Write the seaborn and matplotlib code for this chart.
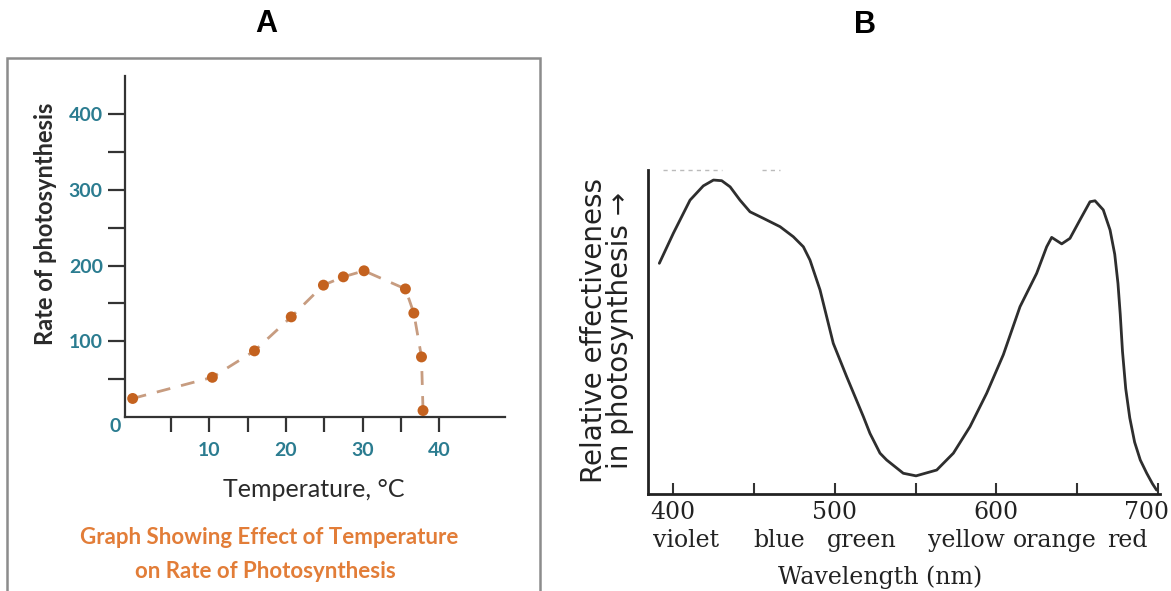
import matplotlib
matplotlib.use("Agg")
import matplotlib.pyplot as plt
import matplotlib.transforms as mtransforms
from matplotlib.patches import Rectangle
import seaborn as sns

# ---------------- Panel A data ----------------
temperature = [0, 10.4, 15.9, 20.7, 24.9, 27.5, 30.2, 35.6, 36.7, 37.7, 37.9]
rate = [24, 52, 87, 132, 174, 185, 193, 169, 137, 79, 8]
a_xticks = [5, 10, 15, 20, 25, 30, 35, 40]
a_xticklabels = ["", "10", "", "20", "", "30", "", "40"]
a_yticks = [50, 100, 150, 200, 250, 300, 350, 400]
a_yticklabels = ["", "100", "", "200", "", "300", "", "400"]

# ---------------- Panel B data ----------------
wavelength = [391.5, 400.2, 410.5, 418.7, 425, 430.1, 435.3, 441.4, 447.6, 455.8,
              466.2, 474.4, 480.6, 484.7, 490.9, 499.1, 507.4, 517.7, 521.8, 528,
              532.1, 542.4, 550.3, 563.1, 573.4, 583.7, 594, 604.3, 614.6, 624.9,
              631.1, 634.2, 640.4, 645.5, 651.7, 657.9, 661, 666.1, 670.3, 673.2,
              675.2, 676.6, 678.0, 680.0, 682.5, 685.5, 689.0, 693, 696.5, 699.1]
effectiveness = [71.2, 80.5, 90.7, 95.1, 96.9, 96.7, 94.8, 90.7, 87.1, 85.1,
                 82.5, 79.4, 76.3, 72.2, 63, 46.5, 36.2, 23.9, 18.7, 12.6,
                 10.5, 6.4, 5.6, 7.4, 12.6, 20.8, 31.1, 43, 57.8, 68.1,
                 76.3, 79.2, 77.2, 78.9, 84.6, 90.2, 90.5, 87.7, 81.5, 74.0,
                 65.0, 55.5, 44.0, 32.5, 23.5, 16.0, 10.5, 6.4, 3.2, 1.2]
b_xticks = [400, 450, 500, 550, 600, 650, 700]
b_xticklabels = ["400", "", "500", "", "600", "", "700"]
color_names = ["violet", "blue", "green", "yellow", "orange", "red"]
color_name_pos = [408, 465.6, 516.9, 581.2, 636.2, 681.1]
top_marks_1 = [393.8, 430.3]
top_marks_2 = [455, 466]

sns.set_theme(style="white")
plt.rcParams["font.family"] = ["Lato", "DejaVu Sans"]

W, H = 1171, 591
fig = plt.figure(figsize=(W / 100, H / 100), dpi=100)
fig.patch.set_facecolor("white")

def fx(px):
    return px / W

def fy(py):
    return 1 - py / H

TEAL = "#2b7c90"
DOT = "#c4621f"
DASH = "#c79c80"
ORANGE = "#e27d38"
DARK = "#2a2a2a"

# ---------------- Panel A ----------------
axA = fig.add_axes([fx(125), fy(416.6), (505 - 125) / W, (416.6 - 75.9) / H])
axA.set_facecolor("white")
sns.lineplot(x=temperature, y=rate, ax=axA, color=DASH, lw=2, sort=False)
axA.get_lines()[-1].set_dashes([5, 4])
sns.scatterplot(x=temperature, y=rate, ax=axA, color=DOT, s=62,
                edgecolor="none", zorder=3)
axA.set_xlim(-1, 48.6)
axA.set_ylim(0, 451)
for s in ["top", "right"]:
    axA.spines[s].set_visible(False)
for s in ["left", "bottom"]:
    axA.spines[s].set_color("#333333")
    axA.spines[s].set_linewidth(1.6)
axA.set_xticks(a_xticks)
axA.set_xticklabels(a_xticklabels)
axA.set_yticks(a_yticks)
axA.set_yticklabels(a_yticklabels)
axA.tick_params(axis="x", bottom=True, direction="out", length=11, width=1.6,
                color="#333333", pad=7, labelsize=14, labelcolor=TEAL)
axA.tick_params(axis="y", left=True, direction="out", length=12, width=1.6,
                color="#333333", pad=4, labelsize=14, labelcolor=TEAL)
for lab in axA.get_xticklabels() + axA.get_yticklabels():
    lab.set_fontweight("bold")
axA.text(-0.026, -0.028, "0", transform=axA.transAxes, ha="center", va="center",
         fontsize=14, fontweight="bold", color=TEAL)
axA.set_ylabel("Rate of photosynthesis", fontsize=17, fontweight="bold",
               color=DARK, va="center")
axA.yaxis.set_label_coords(-0.21, 0.565)
axA.set_xlabel("Temperature, °C", fontsize=18, color=DARK, va="center")
axA.xaxis.set_label_coords(0.497, -0.214)

fig.text(fx(269), fy(538), "Graph Showing Effect of Temperature", ha="center",
         va="center", fontsize=16, fontweight="bold", color=ORANGE)
fig.text(fx(265), fy(571), "on Rate of Photosynthesis", ha="center",
         va="center", fontsize=16, fontweight="bold", color=ORANGE)

fig.patches.append(Rectangle((fx(7), -0.05), (540 - 7) / W, fy(58) + 0.05,
                             transform=fig.transFigure, fill=False,
                             edgecolor="#8c8c8c", lw=1.8, zorder=0))

fig.text(fx(266), fy(24), "A", ha="center", va="center", fontsize=22,
         fontweight="bold", family=["Liberation Sans Narrow", "Liberation Sans"],
         color="black")
fig.text(fx(865), fy(25), "B", ha="center", va="center", fontsize=22,
         fontweight="bold", family=["Liberation Sans Narrow", "Liberation Sans"],
         color="black")

# ---------------- Panel B ----------------
axB = fig.add_axes([fx(648), fy(494), (1160 - 648) / W, (494 - 170) / H])
axB.set_facecolor("white")
sns.lineplot(x=wavelength, y=effectiveness, ax=axB, color="#2e2e2e", lw=2)
axB.plot(top_marks_1, [100, 100], color="#bbbbbb", lw=1, dashes=[3, 3], clip_on=False)
axB.plot(top_marks_2, [100, 100], color="#bbbbbb", lw=1, dashes=[3, 3], clip_on=False)
axB.set_xlim(384.5, 701.2)
axB.set_ylim(0, 100)
for s in ["top", "right"]:
    axB.spines[s].set_visible(False)
for s in ["left", "bottom"]:
    axB.spines[s].set_color("#222222")
    axB.spines[s].set_linewidth(2)
axB.set_yticks([])
axB.set_xticks(b_xticks)
axB.set_xticklabels(b_xticklabels)
axB.tick_params(axis="x", bottom=True, direction="in", length=8, width=1.5,
                color="#333333", pad=5, labelsize=17, labelcolor="#222222")
for lab in axB.get_xticklabels():
    lab.set_family("DejaVu Serif")
last = axB.get_xticklabels()[-1]
last.set_transform(last.get_transform() +
                   mtransforms.ScaledTranslation(-12 / 100, 0, fig.dpi_scale_trans))

blend = mtransforms.blended_transform_factory(axB.transData, axB.transAxes)
for name, pos in zip(color_names, color_name_pos):
    axB.text(pos, -0.142, name, transform=blend, ha="center", va="center",
             fontsize=17, family="DejaVu Serif", color="#222222")
axB.text(0.453, -0.256, "Wavelength (nm)", transform=axB.transAxes, ha="center",
         va="center", fontsize=17, family="DejaVu Serif", color="#222222")
axB.set_ylabel("Relative effectiveness\nin photosynthesis \u2192", fontsize=20,
               family="DejaVu Sans", color="#222222", va="center", linespacing=0.95)
axB.yaxis.set_label_coords(-0.08, 0.506)

fig.savefig("out.png", dpi=100, facecolor="white")
